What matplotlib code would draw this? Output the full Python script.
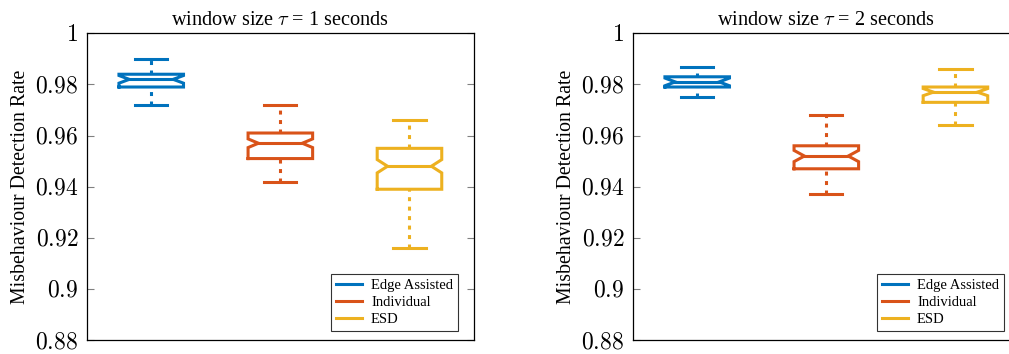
import matplotlib
matplotlib.use("Agg")
import matplotlib.pyplot as plt
from matplotlib.lines import Line2D

plt.rcParams['font.family'] = ['Liberation Serif', 'DejaVu Serif']
plt.rcParams['mathtext.fontset'] = 'cm'

# Daten
methods = ['Edge Assisted', 'Individual', 'ESD']
colors = ['#0072BD', '#D95319', '#EDB120']
windows = [1, 2]

lower_1 = [0.972, 0.942, 0.916]
q1_1 = [0.979, 0.951, 0.939]
median_1 = [0.982, 0.957, 0.948]
q3_1 = [0.984, 0.961, 0.955]
upper_1 = [0.990, 0.972, 0.966]
notch_1 = [0.0015, 0.0017, 0.0026]

lower_2 = [0.975, 0.937, 0.964]
q1_2 = [0.979, 0.947, 0.973]
median_2 = [0.981, 0.952, 0.977]
q3_2 = [0.983, 0.956, 0.979]
upper_2 = [0.987, 0.968, 0.986]
notch_2 = [0.0015, 0.0022, 0.0014]

yticks = [0.88, 0.90, 0.92, 0.94, 0.96, 0.98, 1.0]
ytick_labels = ['0.88', '0.9', '0.92', '0.94', '0.96', '0.98', '1']


# Box im MATLAB-Stil (mit Kerbe)
def draw_box(ax, x, lo, a, med, b, hi, nh, color):
    w = 0.25
    ins = 0.08
    lw = 2.2
    xs = [x - w, x - w, x - w + ins, x - w, x - w, x + w, x + w, x + w - ins, x + w, x + w, x - w]
    ys = [a, med - nh, med, med + nh, b, b, med + nh, med, med - nh, a, a]
    ax.plot(xs, ys, color=color, lw=lw, solid_joinstyle='miter')
    ax.plot([x - w + ins, x + w - ins], [med, med], color=color, lw=lw)
    ax.plot([x, x], [b, hi], color=color, lw=lw, ls=(0, (1.3, 1.8)))
    ax.plot([x, x], [lo, a], color=color, lw=lw, ls=(0, (1.3, 1.8)))
    ax.plot([x - w / 2, x + w / 2], [hi, hi], color=color, lw=lw)
    ax.plot([x - w / 2, x + w / 2], [lo, lo], color=color, lw=lw)


fig = plt.figure(figsize=(10.09, 3.54), dpi=100)
ax1 = fig.add_axes([0.0859, 0.0395, 0.3839, 0.8663])
ax2 = fig.add_axes([0.627, 0.0395, 0.3839, 0.8663])

data = [
    (ax1, lower_1, q1_1, median_1, q3_1, upper_1, notch_1, windows[0]),
    (ax2, lower_2, q1_2, median_2, q3_2, upper_2, notch_2, windows[1]),
]

for ax, lo, a, med, b, hi, nh, tau in data:
    for i in range(3):
        draw_box(ax, i + 1, lo[i], a[i], med[i], b[i], hi[i], nh[i], colors[i])
    ax.set_xlim(0.5, 3.5)
    ax.set_ylim(0.88, 1.0)
    ax.set_xticks([])
    ax.set_yticks(yticks)
    ax.set_yticklabels(['$' + t + '$' for t in ytick_labels], fontsize=17)
    ax.tick_params(axis='y', direction='in', left=True, right=True, length=5,
                   color='#808080', width=0.8, pad=6)
    for s in ax.spines.values():
        s.set_linewidth(0.9)
    ax.set_ylabel('Misbehaviour Detection Rate', fontsize=14.3, labelpad=4)
    ax.set_title(r'window size $\tau$ = %d seconds' % tau, fontsize=14.6, pad=6)
    handles = [Line2D([], [], color=c, lw=2.2) for c in colors]
    leg = ax.legend(handles, methods, loc='lower right', bbox_to_anchor=(0.959, 0.029),
                    borderaxespad=0, fontsize=10.5, frameon=True, fancybox=False,
                    handlelength=1.8, handletextpad=0.6, labelspacing=0.25,
                    borderpad=0.35)
    leg.get_frame().set_edgecolor('black')
    leg.get_frame().set_linewidth(0.8)

fig.savefig('out.png', dpi=100)
